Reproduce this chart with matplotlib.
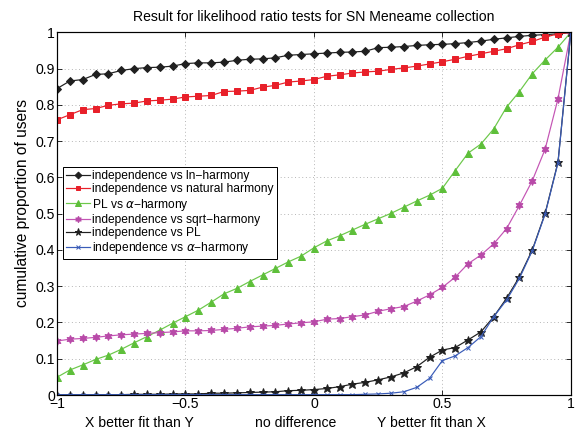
import numpy as np
import matplotlib.pyplot as plt

plt.rcParams['font.family'] = ['Liberation Sans', 'DejaVu Sans']
plt.rcParams['mathtext.fontset'] = 'custom'
plt.rcParams['mathtext.rm'] = 'Liberation Sans'

# score differences from -1 to 1 in steps of 0.05
x = np.round(np.arange(-1, 1.0001, 0.05), 2)

ln_harmony = [0.845, 0.866, 0.870, 0.884, 0.886, 0.895, 0.900, 0.903, 0.904, 0.907,
              0.914, 0.916, 0.916, 0.918, 0.923, 0.926, 0.927, 0.930, 0.937, 0.939,
              0.941, 0.943, 0.945, 0.946, 0.948, 0.958, 0.959, 0.961, 0.964, 0.966,
              0.967, 0.969, 0.972, 0.976, 0.981, 0.985, 0.989, 0.992, 0.994, 0.996, 1.0]
natural_harmony = [0.759, 0.773, 0.787, 0.790, 0.799, 0.803, 0.805, 0.811, 0.813, 0.816,
                   0.822, 0.824, 0.826, 0.837, 0.838, 0.840, 0.849, 0.854, 0.863, 0.866,
                   0.870, 0.879, 0.883, 0.888, 0.891, 0.893, 0.898, 0.902, 0.907, 0.913,
                   0.919, 0.926, 0.934, 0.941, 0.948, 0.955, 0.966, 0.975, 0.987, 0.996, 1.0]
pl_alpha = [0.049, 0.069, 0.083, 0.098, 0.110, 0.126, 0.144, 0.161, 0.179, 0.198,
            0.216, 0.234, 0.256, 0.279, 0.294, 0.313, 0.331, 0.349, 0.367, 0.383,
            0.406, 0.425, 0.439, 0.455, 0.471, 0.486, 0.501, 0.518, 0.535, 0.551,
            0.570, 0.619, 0.667, 0.692, 0.734, 0.794, 0.837, 0.886, 0.924, 0.959, 1.0]
sqrt_harmony = [0.149, 0.154, 0.156, 0.159, 0.163, 0.166, 0.168, 0.170, 0.172, 0.174,
                0.177, 0.177, 0.178, 0.181, 0.184, 0.188, 0.190, 0.192, 0.196, 0.199,
                0.202, 0.209, 0.211, 0.216, 0.221, 0.231, 0.238, 0.244, 0.259, 0.276,
                0.297, 0.325, 0.362, 0.386, 0.417, 0.459, 0.523, 0.591, 0.678, 0.817, 1.0]
indep_pl = [0.001, 0.001, 0.001, 0.001, 0.001, 0.001, 0.002, 0.002, 0.002, 0.003,
            0.003, 0.003, 0.005, 0.005, 0.006, 0.007, 0.008, 0.009, 0.012, 0.013,
            0.015, 0.018, 0.023, 0.030, 0.035, 0.042, 0.050, 0.061, 0.078, 0.104,
            0.124, 0.131, 0.152, 0.174, 0.216, 0.267, 0.326, 0.400, 0.501, 0.642, 1.0]
indep_alpha = [0.001, 0.001, 0.001, 0.001, 0.001, 0.001, 0.001, 0.001, 0.001, 0.001,
               0.001, 0.001, 0.001, 0.001, 0.001, 0.001, 0.001, 0.001, 0.001, 0.001,
               0.001, 0.001, 0.001, 0.001, 0.002, 0.003, 0.005, 0.009, 0.021, 0.046,
               0.095, 0.108, 0.131, 0.161, 0.216, 0.262, 0.322, 0.398, 0.499, 0.640, 1.0]

labels = ['independence vs ln\u2212harmony',
          'independence vs natural harmony',
          r'PL vs $\alpha$$-$harmony',
          'independence vs sqrt\u2212harmony',
          'independence vs PL',
          r'independence vs $\alpha$$-$harmony']

fig = plt.figure(figsize=(8, 6), dpi=72)
ax = fig.add_axes([0.099, 0.0856, 0.892, 0.8394])

ax.plot(x, ln_harmony, color='#202020', marker='D', ms=6, lw=1.2, label=labels[0])
ax.plot(x, natural_harmony, color='#e8202a', marker='s', ms=6, lw=1.2, label=labels[1])
ax.plot(x, pl_alpha, color='#6cc84a', marker='^', ms=7, mfc='#5ebf3a', mec='#5ebf3a',
        lw=1.2, label=labels[2])
ax.plot(x, sqrt_harmony, color='#c455b4', marker=(6, 1, 0), ms=8, mfc='#b84aa8',
        mec='#b84aa8', lw=1.2, label=labels[3])
ax.plot(x, indep_pl, color='#202020', marker='*', ms=9, mfc='#202020', mec='#202020',
        lw=1.2, label=labels[4])
ax.plot(x, indep_alpha, color='#3a5cb8', marker='x', ms=4, mew=1.0, lw=1.2,
        label=labels[5])

ax.set_xlim(-1, 1)
ax.set_ylim(0, 1)
ax.set_xticks([-1, -0.5, 0, 0.5, 1])
ax.set_xticklabels(['\u22121', '\u22120.5', '0', '0.5', '1'])
ax.set_yticks(np.round(np.arange(0, 1.01, 0.1), 1))
ax.set_yticklabels(['0', '0.1', '0.2', '0.3', '0.4', '0.5', '0.6', '0.7', '0.8', '0.9', '1'])
ax.tick_params(direction='in', top=True, right=True, labelsize=14, length=5, pad=2)
ax.grid(True, linestyle=(0, (1, 3)), color='#aaaaaa', lw=0.9)
for s in ax.spines.values():
    s.set_linewidth(1.2)

ax.set_title('Result for likelihood ratio tests for SN Meneame collection', fontsize=14, pad=11)
ax.set_ylabel('cumulative proportion of users', fontsize=15.5)
ax.yaxis.set_label_coords(-0.053, 0.53)

# three-part x label under the tick labels
trans = ax.get_xaxis_transform()
for xc, txt in [(-0.68, 'X better fit than Y'), (-0.072, 'no difference'),
                (0.459, 'Y better fit than X')]:
    ax.text(xc, -0.078, txt, transform=trans, ha='center', va='center', fontsize=14)

leg = ax.legend(loc='upper left', bbox_to_anchor=(0.011, 0.628), fontsize=12,
                fancybox=False, edgecolor='black', framealpha=1, borderpad=0.25,
                labelspacing=0.1, handlelength=2.0, handletextpad=0.2,
                borderaxespad=0, markerscale=0.8)
leg.get_frame().set_linewidth(1.0)

fig.savefig('out.png', dpi=72)
